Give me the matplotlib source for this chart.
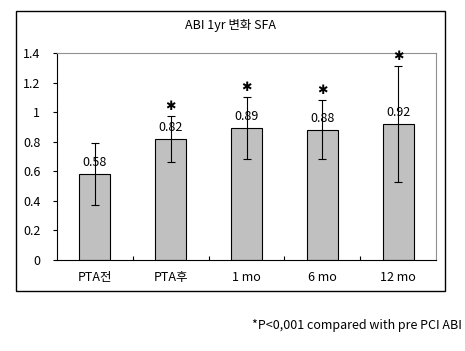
import matplotlib
matplotlib.use("Agg")
import matplotlib.pyplot as plt
from matplotlib.patches import Rectangle

plt.rcParams['font.family'] = ['Noto Sans CJK KR', 'DejaVu Sans']

categories = ["PTA전", "PTA후", "1 mo", "6 mo", "12 mo"]
means = [0.58, 0.82, 0.89, 0.88, 0.92]
sds = [0.21, 0.155, 0.21, 0.20, 0.39]
significant = [False, True, True, True, True]
yticks = [0, 0.2, 0.4, 0.6, 0.8, 1, 1.2, 1.4]
ytick_labels = ["0", "0.2", "0.4", "0.6", "0.8", "1", "1.2", "1.4"]
title = "ABI 1yr 변화 SFA"
footnote = "*P<0,001 compared with pre PCI ABI"

W, H = 465, 351
fig = plt.figure(figsize=(W / 100, H / 100), dpi=100)
fig.patch.set_facecolor("white")

# outer chart frame
fig.patches.append(Rectangle((16 / W, 1 - 291 / H), (445 - 16) / W, (291 - 11) / H,
                             transform=fig.transFigure, fill=False, edgecolor="black",
                             linewidth=1.0))

ax = fig.add_axes([57 / W, 1 - 260 / H, (436 - 57) / W, (260 - 53) / H])
x = list(range(len(categories)))
ax.bar(x, means, width=0.41, color="#C0C0C0", edgecolor="black", linewidth=0.8, zorder=2)
ax.errorbar(x, means, yerr=sds, fmt="none", ecolor="black", elinewidth=0.8,
            capsize=3, capthick=0.8, zorder=3)

for xi, m, s, sig in zip(x, means, sds, significant):
    ax.text(xi, m + 0.035, f"{m:.2f}", ha="center", va="bottom", fontsize=9, zorder=4)
    if sig:
        ax.text(xi, m + s + 0.065, "✱", ha="center", va="center", fontsize=9,
                family="DejaVu Sans", zorder=4)

ax.set_xlim(-0.5, len(categories) - 0.5)
ax.set_ylim(0, 1.4)
ax.set_yticks(yticks)
ax.set_yticklabels(ytick_labels, fontsize=9)
ax.set_xticks(x)
ax.set_xticklabels(categories, fontsize=9)
ax.tick_params(axis="x", length=0, pad=8)
ax.tick_params(axis="y", length=3, direction="out", pad=9, width=0.8)
# minor ticks between categories on x axis
ax.set_xticks([i + 0.5 for i in range(len(categories) - 1)], minor=True)
ax.tick_params(axis="x", which="minor", length=3, direction="in", width=0.8)

for side in ["top", "right"]:
    ax.spines[side].set_color("#909090")
    ax.spines[side].set_linewidth(0.8)
for side in ["left", "bottom"]:
    ax.spines[side].set_color("black")
    ax.spines[side].set_linewidth(0.8)

fig.text(230 / W, 1 - 25 / H, title, ha="center", va="center", fontsize=9)
fig.text(462 / W, 1 - 325 / H, footnote, ha="right", va="center", fontsize=9)

fig.savefig("out.png", dpi=100)
